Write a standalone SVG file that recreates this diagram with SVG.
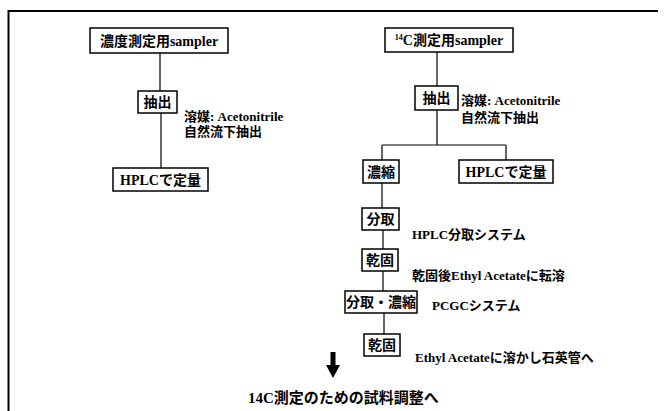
<svg xmlns="http://www.w3.org/2000/svg" width="665" height="411" viewBox="0 0 665 411">
<style>
.box{fill:#fff;stroke:#000;stroke-width:1.5}
.t{font-family:"Liberation Serif","Noto Sans CJK JP",serif;font-weight:bold;font-size:14px;fill:#000;text-anchor:middle}
.s{font-family:"Liberation Serif","Noto Sans CJK JP",serif;font-weight:bold;font-size:13px;fill:#000}
.big{font-size:15px}
.ln{fill:none;stroke:#000;stroke-width:1.2}
</style>
<rect width="665" height="411" fill="#fff"/>
<path d="M8.5,411 V11 H658" fill="none" stroke="#000" stroke-width="2"/>
<g id="connectors">
<path class="ln" d="M160,53 V91"/>
<path class="ln" d="M161,113 V168"/>
<path class="ln" d="M437,52 V86"/>
<path class="ln" d="M437,110 V145 M382,145 H506 M382,145 V160 M506,145 V160"/>
<path class="ln" d="M382,183 V208"/>
<path class="ln" d="M383,230 V249"/>
<path class="ln" d="M383,271 V291"/>
<path class="ln" d="M384,313 V334"/>
<path d="M330.5,352 H335.5 V365 H340 L333,378 L326,365 H330.5 Z" fill="#000"/>
</g>
<g id="n1"><rect class="box" x="90" y="28" width="138" height="25"/><text class="t" x="159" y="45.5">濃度測定用sampler</text></g>
<g id="n2"><rect class="box" x="138" y="91" width="39" height="22"/><text class="t" x="157.5" y="107">抽出</text></g>
<g id="n2label"><text class="s" x="184" y="120.5">溶媒: Acetonitrile</text><text class="s" x="184" y="135.5">自然流下抽出</text></g>
<g id="n3"><rect class="box" x="113" y="168" width="95" height="23"/><text class="t" x="160.5" y="184.5">HPLCで定量</text></g>
<g id="r1"><rect class="box" x="385" y="28" width="128" height="24"/><text class="t" x="449" y="45"><tspan font-size="8" dy="-5">14</tspan><tspan dy="5">C測定用sampler</tspan></text></g>
<g id="r2"><rect class="box" x="415" y="86" width="43" height="24"/><text class="t" x="436.5" y="103">抽出</text></g>
<g id="r2label"><text class="s" x="461" y="104.5">溶媒: Acetonitrile</text><text class="s" x="461" y="121.5">自然流下抽出</text></g>
<g id="r3"><rect class="box" x="363" y="160" width="36" height="23"/><text class="t" x="381" y="176.5">濃縮</text></g>
<g id="r4"><rect class="box" x="459" y="160" width="94" height="23"/><text class="t" x="506" y="176.5">HPLCで定量</text></g>
<g id="r5"><rect class="box" x="362" y="208" width="37" height="22"/><text class="t" x="380.5" y="224">分取</text></g>
<g id="r5label"><text class="s" x="412" y="238.5">HPLC分取システム</text></g>
<g id="r6"><rect class="box" x="362" y="249" width="36" height="22"/><text class="t" x="380" y="265">乾固</text></g>
<g id="r6label"><text class="s" x="412" y="279.5">乾固後Ethyl Acetateに転溶</text></g>
<g id="r7"><rect class="box" x="345" y="291" width="72" height="22"/><text class="t" x="381" y="307">分取・濃縮</text></g>
<g id="r7label"><text class="s" x="432" y="309.5">PCGCシステム</text></g>
<g id="r8"><rect class="box" x="364" y="334" width="36" height="22"/><text class="t" x="382" y="350">乾固</text></g>
<g id="r8label"><text class="s" x="415" y="361.5">Ethyl Acetateに溶かし石英管へ</text></g>
<g id="final"><text class="s big" x="248" y="402.5">14C測定のための試料調整へ</text></g>
</svg>
